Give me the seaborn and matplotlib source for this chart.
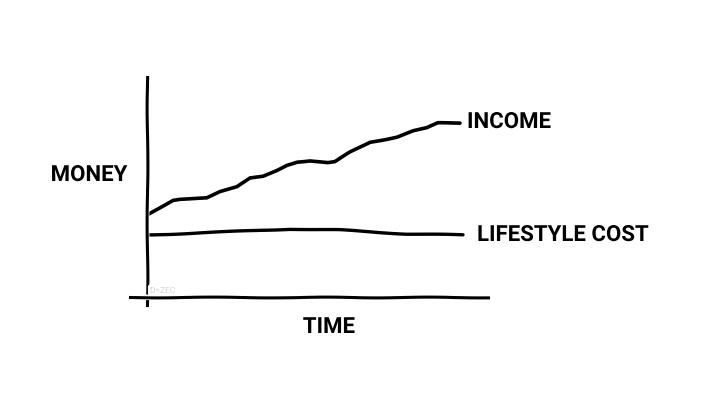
import numpy as np
import pandas as pd
import matplotlib
matplotlib.use('Agg')
import matplotlib.pyplot as plt
import seaborn as sns

# data (time / money in arbitrary units)
income_time = [0, 26, 33, 60, 73, 90, 103, 116, 130, 140, 150, 163, 181, 188,
               203, 213, 223, 240, 250, 266, 280, 291, 313]
income_money = [82, 97, 98, 99, 105, 110, 119, 121, 127, 132, 135, 136, 134, 135,
                145, 150, 155, 158, 160, 166, 169, 174, 174]

cost_time = [0, 76, 143, 193, 260, 316]
cost_money = [62, 65, 68, 67, 63, 62]

labels = ['INCOME', 'LIFESTYLE COST']
x_label = 'TIME'
y_label = 'MONEY'

sns.set_style('white')
plt.xkcd(scale=0.4, length=120, randomness=2)
plt.rcParams['font.family'] = ['Roboto', 'DejaVu Sans']

fig = plt.figure(figsize=(7.2, 4.05), dpi=100)
ax = fig.add_axes([130 / 720, 100 / 405, 358 / 720, 228 / 405])

sns.lineplot(x=income_time, y=income_money, ax=ax, color='black', lw=2.6)
sns.lineplot(x=cost_time, y=cost_money, ax=ax, color='black', lw=2.4)

ax.set_xlim(-17, 341)
ax.set_ylim(-8, 220)

for side in ['top', 'right']:
    ax.spines[side].set_visible(False)
ax.spines['left'].set_position(('data', 0))
ax.spines['bottom'].set_position(('data', 0))
ax.spines['left'].set_linewidth(2.2)
ax.spines['bottom'].set_linewidth(2.2)
ax.set_xticks([])
ax.set_yticks([])

txt = dict(fontsize=16, fontweight='bold', color='black')

# line labels
ax.text(income_time[-1] + 7, income_money[-1] + 1, labels[0],
        va='center', ha='left', clip_on=False, **txt)
ax.text(cost_time[-1] + 14, cost_money[-1], labels[1],
        va='center', ha='left', clip_on=False, **txt)

ax.set_xlabel(x_label, va='center', **txt)
ax.xaxis.set_label_coords((329 - 130) / 358, (305 - 327) / 228)
ax.set_ylabel(y_label, rotation=0, ha='center', va='center', **txt)
ax.yaxis.set_label_coords((89 - 130) / 358, (305 - 175) / 228)

# faint watermark
ax.text(3, 6, 'D=ZEC', fontsize=6, color='#d6d6d6', ha='left', va='center')

fig.savefig('out.png', dpi=100)
